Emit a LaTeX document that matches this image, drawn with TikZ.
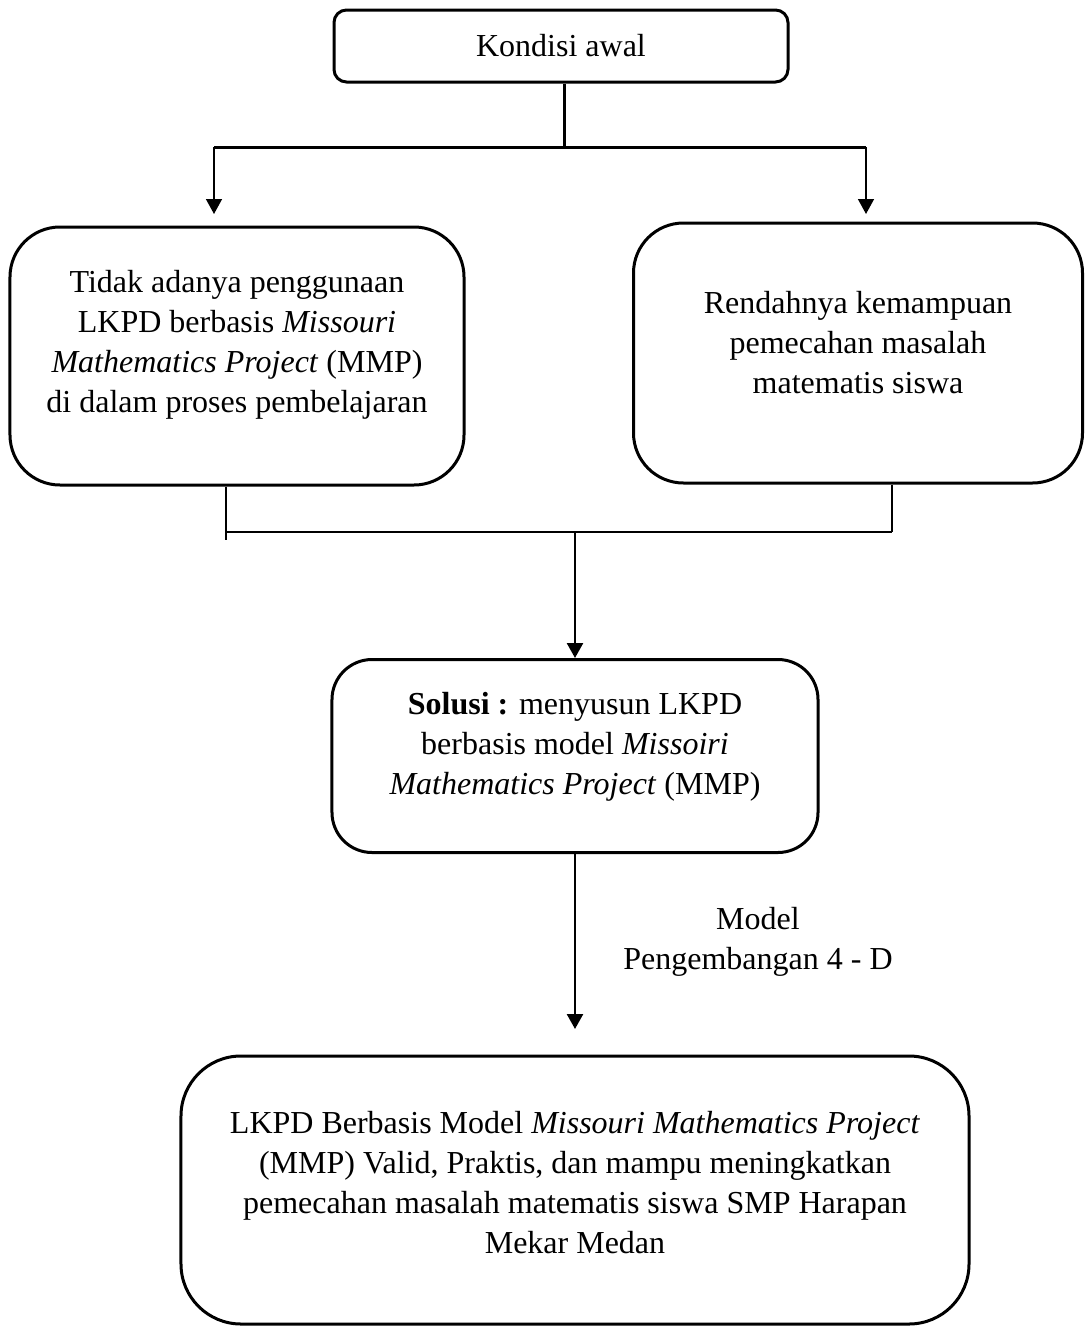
\documentclass[tikz,border=0pt]{standalone}
\usepackage{fontspec}
\setmainfont{Liberation Serif}
\usetikzlibrary{positioning, arrows.meta, calc}

\begin{document}
\begin{tikzpicture}[x=0.4pt, y=-0.4pt, every node/.style={font=\fontsize{12.8}{16}\selectfont}, >={Triangle[width=6.4pt,length=6pt]}]
\tikzset{
  card/.style={draw, line width=1.2pt, rectangle},
  words/.style={align=center, inner sep=0pt},
  link/.style={line width=1pt}
}
\useasboundingbox (0,0) rectangle (1085,1327);

% Starting condition
\node (awal) [card, rounded corners=5pt, minimum width=181.6pt, minimum height=28.8pt] at (561,46) {Kondisi awal};

% Two problems
\node (tidak) [card, rounded corners=20pt, minimum width=181.6pt, minimum height=103.2pt] at (237,356) {};
\node (tidaktxt) [words] at (237,345) {Tidak adanya penggunaan\\LKPD berbasis \textit{Missouri}\\\textit{Mathematics Project} (MMP)\\di dalam proses pembelajaran};
\node (rendah) [card, rounded corners=20pt, minimum width=179.6pt, minimum height=104pt] at (858,353) {};
\node (rendahtxt) [words] at (858,343) {Rendahnya kemampuan\\pemecahan masalah\\matematis siswa};

% Solution
\node (solusi) [card, rounded corners=16pt, minimum width=194.4pt, minimum height=77.2pt] at (575,756) {};
\node (solusitxt) [words] at (575,747) {\textbf{Solusi :} menyusun LKPD\\berbasis model \textit{Missoiri}\\\textit{Mathematics Project} (MMP)};

% Result
\node (hasil) [card, rounded corners=24pt, minimum width=315.2pt, minimum height=107.2pt] at (575,1190) {};
\node (hasiltxt) [words] at (575,1183) {LKPD Berbasis Model \textit{Missouri Mathematics Project}\\(MMP) Valid, Praktis, dan mampu meningkatkan\\pemecahan masalah matematis siswa SMP Harapan\\Mekar Medan};

% Development model label
\node (model) [words] at (758,942) {Model\\Pengembangan 4 - D};

% Branch points
\coordinate (split) at (564,147);
\coordinate (splitL) at (214,147);
\coordinate (splitR) at (866,147);
\coordinate (endL) at (214,214);
\coordinate (endR) at (866,214);
\coordinate (joinL) at (226,532);
\coordinate (joinR) at (892,532);
\coordinate (join) at (575,532);
\coordinate (tailL) at (226,540);
\coordinate (hasilend) at (575,1029);

% Split arrows
\draw[line width=1.2pt] (awal.south -| split) -- (split);
\draw[line width=1.2pt] (splitL) -- (splitR);
\draw[->, line width=0.6pt] (splitL) -- (endL);
\draw[->, line width=0.6pt] (splitR) -- (endR);

% Join lines
\draw[link] (tidak.south -| joinL) -- (tailL);
\draw[link] (rendah.south -| joinR) -- (joinR);
\draw[link] (joinL) -- (joinR);
\draw[->, link] (join) -- (solusi.north);

% To result
\draw[->, link] (solusi.south) -- (hasilend);

\end{tikzpicture}
\end{document}
